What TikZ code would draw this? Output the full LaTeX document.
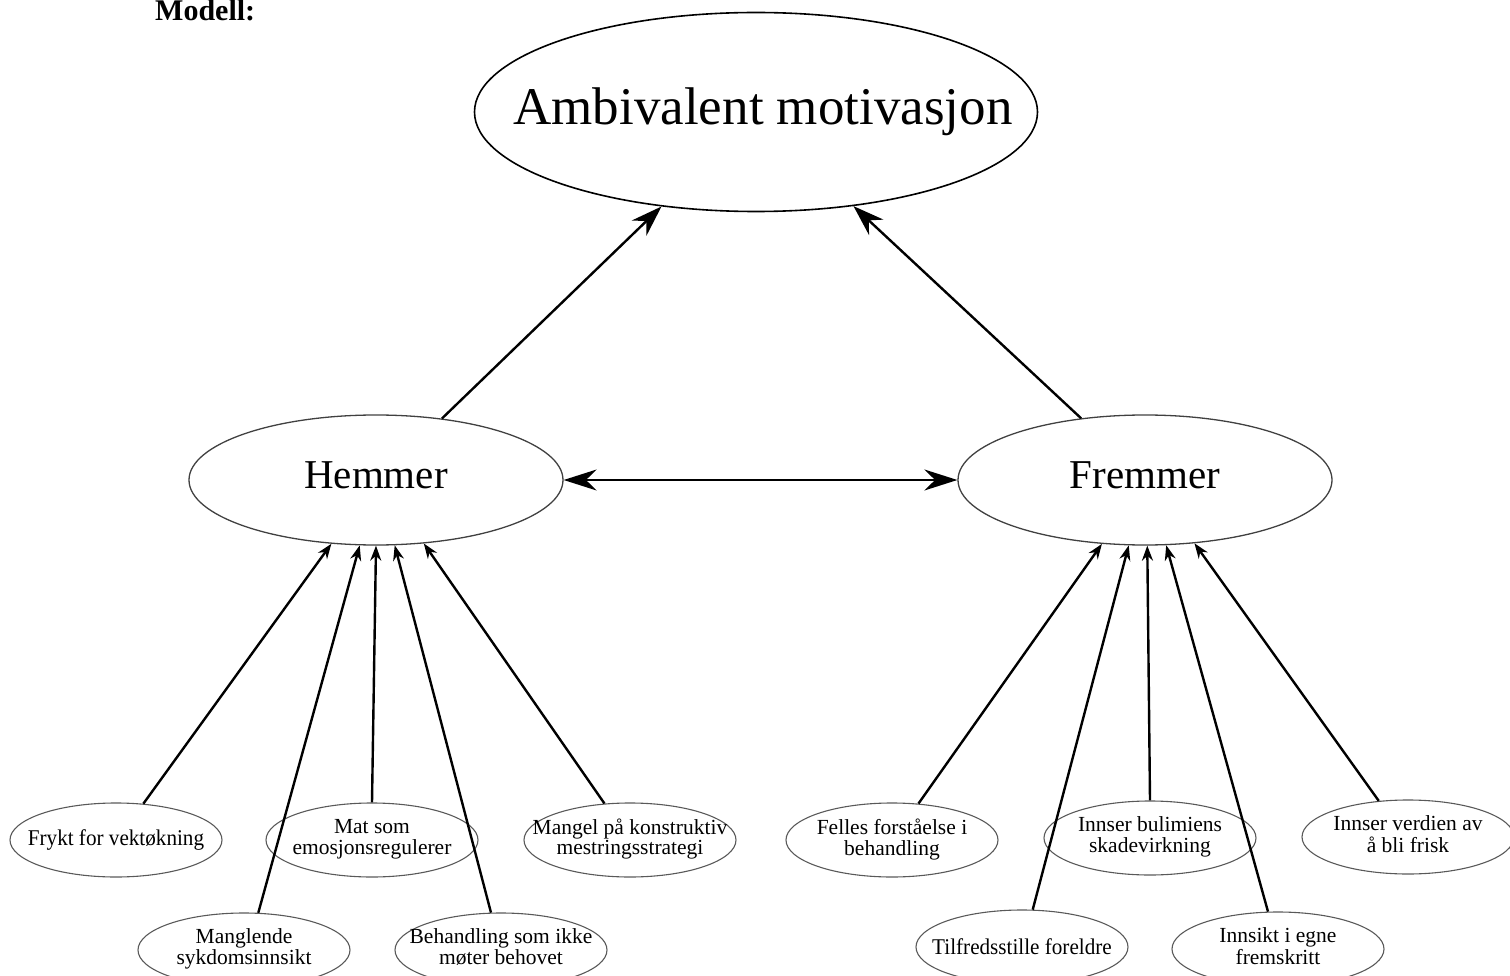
\documentclass[tikz,border=0pt]{standalone}
\usepackage{fontspec}
\setmainfont{Liberation Serif}
\newfontfamily\narrowser[FakeStretch=0.94]{Liberation Serif}
\usetikzlibrary{shapes.geometric,arrows.meta}
\newcommand{\zw}[1]{\makebox[0pt]{#1}}
\newcommand{\twol}[2]{\makebox[0pt]{\begin{tabular}{@{}c@{}}#1\\#2\end{tabular}}}
\tikzset{
  big/.style={ellipse, draw, line width=1.6pt, inner sep=0pt, minimum width=563pt, minimum height=199pt, font=\fontsize{53}{60}\selectfont},
  mid/.style={ellipse, draw=black!75, line width=1.3pt, inner sep=0pt, minimum width=374pt, minimum height=130pt, font=\fontsize{41}{48}\selectfont, text height=27pt, text depth=10pt},
  leaf/.style={ellipse, draw=black!65, line width=1.1pt, inner sep=0pt, minimum width=212pt, minimum height=74pt, font=\fontsize{21.5}{20.5}\selectfont},
  leafone/.style={leaf, font=\narrowser\fontsize{22.5}{24}\selectfont},
  conn/.style={line width=2.4pt, -{Stealth[length=15pt,width=11pt]}},
  mainarr/.style={line width=2.4pt, -{Stealth[length=31pt,width=21pt]}},
  bothar/.style={line width=2.2pt, {Stealth[length=33pt,width=21pt]}-{Stealth[length=33pt,width=21pt]}},
}
\begin{document}
\begin{tikzpicture}[x=1pt,y=-1pt]
\useasboundingbox (0,0) rectangle (1510,976);
\node[font=\bfseries\fontsize{30}{36}\selectfont, anchor=base west, inner sep=0pt] (modell) at (155,21) {Modell:};

\node[big] (amb) at (756,112) {\zw{\hspace*{14pt}Ambivalent motivasjon}};
\node[mid] (hem) at (376,480) {\zw{Hemmer}};
\node[mid] (frem) at (1145,480) {\zw{Fremmer}};

\node[leafone] (frykt) at (116,840) {\zw{Frykt for vektøkning}};
\node[leaf] (mat) at (372,840) {\twol{Mat som}{emosjonsregulerer}};
\node[leaf] (mangel) at (630,840) {\twol{Mangel på konstruktiv}{mestringsstrategi}};
\node[leaf] (mangl) at (244,950) {\twol{Manglende}{sykdomsinnsikt}};
\node[leaf] (behand) at (501,950) {\twol{Behandling som ikke}{møter behovet}};

\node[leaf] (felles) at (892,840) {\twol{Felles forståelse i}{behandling}};
\node[leaf] (bul) at (1150,838) {\twol{Innser bulimiens}{skadevirkning}};
\node[leaf] (verdi) at (1408,837) {\twol{Innser verdien av}{å bli frisk}};
\node[leafone] (tilf) at (1022,947) {\zw{Tilfredsstille foreldre}};
\node[leaf] (innsikt) at (1278,949) {\twol{Innsikt i egne}{fremskritt}};

\draw[mainarr] (hem.43.6) -- (amb.-135.3);
\draw[mainarr] (frem.136.8) -- (amb.-44.1);
\draw[bothar] (hem.east) -- (frem.west);

\draw[conn] (frykt.53) -- (hem.-125.5);
\draw[conn] (mangl.69.1) -- (hem.-104.7);
\draw[conn] (mat.90) -- (hem.-90);
\draw[conn] (behand.105.2) -- (hem.-74.5);
\draw[conn] (mangel.125.9) -- (hem.-53.9);

\draw[conn] (felles.54.1) -- (frem.-124.8);
\draw[conn] (tilf.74.8) -- (frem.-104.7);
\draw[conn] (bul.90) -- (frem.-88.2);
\draw[conn] (innsikt.105.2) -- (frem.-72);
\draw[conn] (verdi.129.2) -- (frem.-52.6);
\end{tikzpicture}
\end{document}
